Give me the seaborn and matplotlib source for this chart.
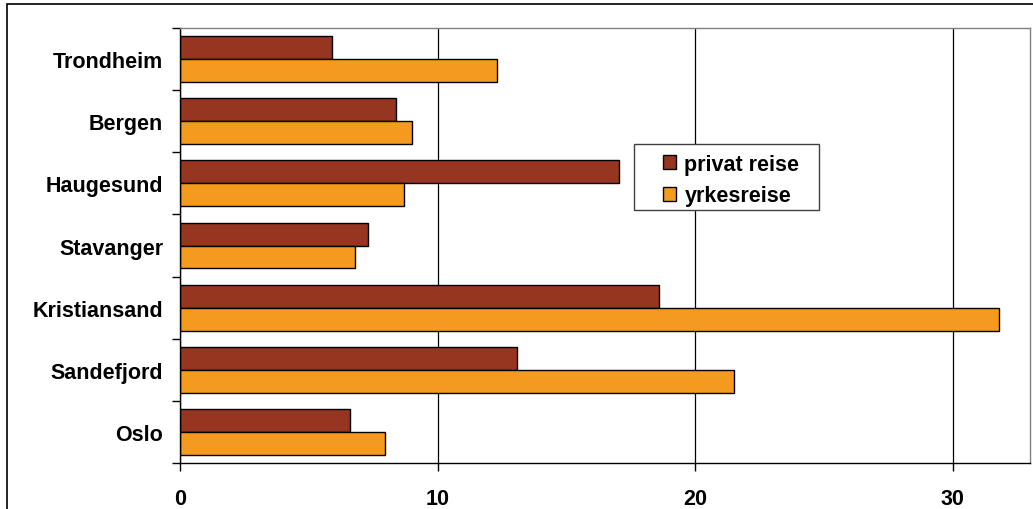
import pandas as pd
import matplotlib.pyplot as plt
import seaborn as sns
from matplotlib.patches import Rectangle

# data
cities = ['Trondheim', 'Bergen', 'Haugesund', 'Stavanger', 'Kristiansand', 'Sandefjord', 'Oslo']
privat = [5.9, 8.4, 17.05, 7.3, 18.6, 13.1, 6.6]
yrkes = [12.3, 9.0, 8.7, 6.8, 31.8, 21.5, 7.95]
series = ['privat reise', 'yrkesreise']

df = pd.DataFrame({
    'by': cities * 2,
    'verdi': privat + yrkes,
    'type': [series[0]] * len(cities) + [series[1]] * len(cities),
})

sns.set_style('white')
plt.rcParams['font.family'] = ['Liberation Sans', 'DejaVu Sans']
plt.rcParams['text.color'] = 'black'
plt.rcParams['xtick.color'] = 'black'
plt.rcParams['ytick.color'] = 'black'

fig = plt.figure(figsize=(10.33, 5.10), dpi=100)
ax = fig.add_axes([180 / 1033, 1 - 464 / 510, 850 / 1033, 435 / 510])

sns.barplot(data=df, y='by', x='verdi', hue='type', order=cities, hue_order=series,
            palette=['#963520', '#F39A1F'], orient='h', width=0.74,
            edgecolor='black', linewidth=1, saturation=1, ax=ax)

ax.set_xlim(0, 33)
ax.set_ylim(len(cities) - 0.5, -0.5)
ax.set_xticks([0, 10, 20, 30])
ax.set_xticklabels(['0', '10', '20', '30'], fontsize=15.5, fontweight='bold')
ax.set_yticks(range(len(cities)))
ax.set_yticklabels(cities, fontsize=15.5, fontweight='bold')
ax.set_yticks([i - 0.5 for i in range(len(cities) + 1)], minor=True)
ax.tick_params(axis='y', which='major', left=False, length=0, pad=12)
ax.tick_params(axis='y', which='minor', left=True, length=6, width=1, color='black', direction='out')
ax.tick_params(axis='x', bottom=True, length=6, width=1, color='black', direction='out', pad=12)
ax.set_xlabel('')
ax.set_ylabel('')

ax.grid(axis='x', color='black', linewidth=0.9)
ax.set_axisbelow(True)
for side in ['top', 'right']:
    ax.spines[side].set_color('#808080')
    ax.spines[side].set_linewidth(1)
for side in ['left', 'bottom']:
    ax.spines[side].set_color('black')
    ax.spines[side].set_linewidth(1)

# legend without its own frame, box drawn separately (wider side padding like the original)
leg = ax.legend(loc='upper left', bbox_to_anchor=(0.5566, 0.7333), frameon=False,
                borderaxespad=0, handlelength=0.6, handleheight=0.6, handletextpad=0.4,
                borderpad=0.45, labelspacing=0.5, prop={'weight': 'bold', 'size': 15.5})
ax.add_patch(Rectangle((0.534, 0.5816), 0.2176, 0.1517, transform=ax.transAxes,
                       facecolor='white', edgecolor='#404040', linewidth=1, zorder=4))
leg.set_zorder(5)

# outer chart frame
fig.patches.append(Rectangle((7 / 1033, -0.1), 1.2, 1 - 5 / 510 + 0.1, transform=fig.transFigure,
                             fill=False, edgecolor='black', linewidth=1.2))

plt.savefig('out.png', dpi=100)
